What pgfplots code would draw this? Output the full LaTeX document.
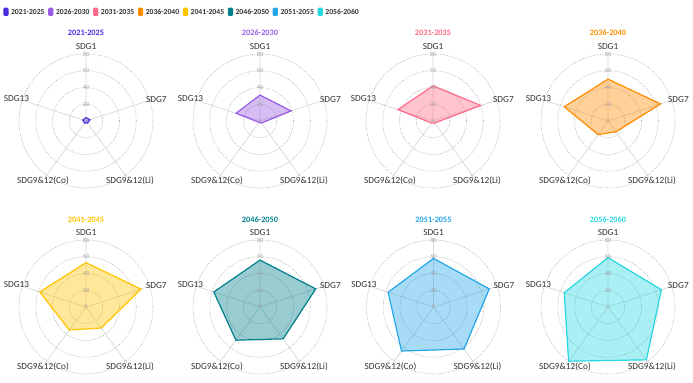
\documentclass[border=0pt]{standalone}
\usepackage{fontspec}
\setmainfont{Carlito}
\usepackage{pgfplots}
\pgfplotsset{compat=1.18}
\usepgfplotslibrary{polar}
\definecolor{c1}{RGB}{72,44,226}
\definecolor{c2}{RGB}{153,92,230}
\definecolor{c3}{RGB}{255,107,138}
\definecolor{c4}{RGB}{255,140,0}
\definecolor{c5}{RGB}{255,195,0}
\definecolor{c6}{RGB}{0,128,138}
\definecolor{c7}{RGB}{36,166,232}
\definecolor{c8}{RGB}{40,214,224}
\definecolor{txt}{RGB}{51,51,51}
\definecolor{spoke}{RGB}{215,215,215}
\definecolor{ring}{RGB}{175,175,175}
\definecolor{ticktxt}{RGB}{165,165,165}
\newcommand\lblfont{\fontsize{9.3}{10}\selectfont}
\newcommand\tickfont{\fontsize{6.2}{7}\selectfont}
% #1 x, #2 y (centre), #3 colour, #4 title, #5 coordinates, #6 title y
\newcommand\radar[6]{%
\begin{polaraxis}[at={(#1bp,#2bp)}, anchor=center,
  scale only axis, width=139bp, height=139bp,
  ymin=0, ymax=83,
  xtick={18,90,162,234,306}, ytick={20,40,60,80},
  xticklabels={}, yticklabels={},
  xmajorgrids, ymajorgrids,
  major x grid style={draw=spoke, line width=0.7bp},
  major y grid style={draw=ring, line width=0.6bp, dash pattern=on 0.9bp off 1.3bp},
  axis line style={draw=none}, tick style={draw=none},
  clip=false]
\addplot[draw=#3, line width=1.2bp, fill=#3, fill opacity=0.4, mark=none] coordinates {#5} -- cycle;
\node[text=ticktxt, font=\tickfont, inner sep=0.3bp] at (axis cs:90,0) {0};
\node[text=ticktxt, font=\tickfont, inner sep=0.3bp] at (axis cs:90,20) {20};
\node[text=ticktxt, font=\tickfont, inner sep=0.3bp] at (axis cs:90,40) {40};
\node[text=ticktxt, font=\tickfont, inner sep=0.3bp] at (axis cs:90,60) {60};
\node[text=ticktxt, font=\tickfont, inner sep=0.3bp] at (axis cs:90,80) {80};
\end{polaraxis}
\node[anchor=south, inner sep=0, font=\lblfont, text=txt, yshift=71bp] at (#1bp,#2bp) {SDG1};
\node[anchor=west, inner sep=0, font=\lblfont, text=txt, xshift=60bp, yshift=21.5bp] at (#1bp,#2bp) {SDG7};
\node[anchor=east, inner sep=0, font=\lblfont, text=txt, xshift=-56.7bp, yshift=22bp] at (#1bp,#2bp) {SDG13};
\node[anchor=north, inner sep=0, font=\lblfont, text=txt, xshift=44bp, yshift=-56bp] at (#1bp,#2bp) {SDG9\&12(Li)};
\node[anchor=north, inner sep=0, font=\lblfont, text=txt, xshift=-43bp, yshift=-56bp] at (#1bp,#2bp) {SDG9\&12(Co)};
\node[font=\fontsize{8.3}{9}\selectfont\bfseries, text=#3, inner sep=0] at (#1bp,#6bp) {#4};
}
\newcommand\legitem[3]{%
\fill[#2, rounded corners=1.2bp] (#1bp,367bp) rectangle ++(5.2bp,8.3bp);
\node[anchor=west, inner sep=0, font=\fontsize{7.7}{8}\selectfont\bfseries, text=txt, xshift=7.6bp] at (#1bp,371.2bp) {#3};
}
\begin{document}
\begin{tikzpicture}
\path[use as bounding box] (0,0) rectangle (693bp,383bp);
\legitem{3.3}{c1}{2021-2025}
\legitem{48.2}{c2}{2026-2030}
\legitem{93.1}{c3}{2031-2035}
\legitem{138.0}{c4}{2036-2040}
\legitem{182.9}{c5}{2041-2045}
\legitem{227.8}{c6}{2046-2050}
\legitem{272.7}{c7}{2051-2055}
\legitem{317.6}{c8}{2056-2060}
\radar{86}{262}{c1}{2021-2025}{(90,4) (18,5) (306,3) (234,3) (162,4)}{350}
\radar{260}{262}{c2}{2026-2030}{(90,31) (18,39) (306,3) (234,2) (162,30)}{350}
\radar{433}{262}{c3}{2031-2035}{(90,42) (18,60) (306,3) (234,3) (162,44)}{350}
\radar{608}{262}{c4}{2036-2040}{(90,50) (18,66) (306,16) (234,20) (162,55)}{350}
\radar{86}{76}{c5}{2041-2045}{(90,53) (18,69) (306,31) (234,34) (162,58)}{163}
\radar{260}{76}{c6}{2046-2050}{(90,56) (18,70) (306,47) (234,49) (162,58)}{163}
\radar{433.5}{76}{c7}{2051-2055}{(90,58) (18,70) (306,62) (234,65) (162,57)}{163}
\radar{608}{76}{c8}{2056-2060}{(90,59) (18,67) (306,78) (234,80) (162,55)}{163}
\end{tikzpicture}
\end{document}
